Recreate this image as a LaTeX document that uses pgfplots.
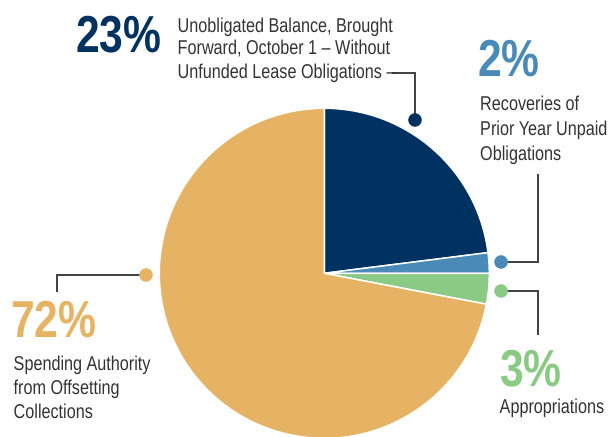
\documentclass[border=0pt]{standalone}
\usepackage{pgfplots}
\usepackage{pgfplotstable}
\pgfplotsset{compat=1.18}
\usepackage{fontspec}
\setmainfont{Liberation Sans}
\newfontfamily\labfont[FakeStretch=0.81]{Liberation Sans}
\newfontfamily\pctfont[FakeStretch=0.82]{Liberation Sans}
\definecolor{navy}{RGB}{0,50,97}
\definecolor{pblue}{RGB}{74,138,185}
\definecolor{pgreen}{RGB}{138,202,133}
\definecolor{ptan}{RGB}{229,179,99}
\definecolor{txt}{RGB}{51,51,51}
\definecolor{lead}{RGB}{68,68,68}

% shares in percent, clockwise from 12 o'clock
\pgfplotstableread{
name pct
unob 23
recov 2
approp 3
spend 72
}\slices
\pgfplotstablegetelem{0}{pct}\of\slices\edef\pA{\pgfplotsretval}%
\pgfplotstablegetelem{1}{pct}\of\slices\edef\pB{\pgfplotsretval}%
\pgfplotstablegetelem{2}{pct}\of\slices\edef\pC{\pgfplotsretval}%
\pgfplotstablegetelem{3}{pct}\of\slices\edef\pD{\pgfplotsretval}%
\pgfmathsetmacro\aA{90-3.6*\pA}%
\pgfmathsetmacro\aB{\aA-3.6*\pB}%
\pgfmathsetmacro\aC{\aB-3.6*\pC}%
\pgfmathsetmacro\aD{\aC-3.6*\pD}%

\newcommand\slice[3]{\filldraw[fill=#1, draw=white, line width=1.5pt, line join=round]
  (axis cs:324.3,162.7) -- ++(#2:165pt) arc[start angle=#2, end angle=#3, radius=165pt] -- cycle;}
\newcommand\lab[3]{\node[anchor=base west, inner sep=0pt, text=txt,
  font=\labfont\fontsize{20}{24}\selectfont] at (axis cs:#1,#2) {#3};}
\newcommand\pct[4]{\node[anchor=base west, inner sep=0pt, text=#3,
  font=\pctfont\bfseries\fontsize{52}{52}\selectfont] at (axis cs:#1,#2) {#4\%};}

\begin{document}
\begin{tikzpicture}
\begin{axis}[hide axis, x=1pt, y=1pt, xmin=0, xmax=612, ymin=0, ymax=436,
  enlargelimits=false, clip=true]
\slice{navy}{90}{\aA}
\slice{pblue}{\aA}{\aB}
\slice{pgreen}{\aB}{\aC}
\slice{ptan}{\aC}{\aD}

% leader lines
\addplot[lead, line width=1.4pt, no marks] coordinates {(392,363) (415,363) (415,316)};
\addplot[lead, line width=1.4pt, no marks] coordinates {(538,262) (538,174) (501,174)};
\addplot[lead, line width=1.4pt, no marks] coordinates {(501,145) (538,145) (538,101)};
\addplot[lead, line width=1.4pt, no marks] coordinates {(146,161) (57,161) (57,144)};
\addplot[only marks, mark=*, mark size=6.5pt, navy] coordinates {(415,316)};
\addplot[only marks, mark=*, mark size=6.5pt, pblue] coordinates {(501,174)};
\addplot[only marks, mark=*, mark size=6.5pt, pgreen] coordinates {(501,145)};
\addplot[only marks, mark=*, mark size=6.5pt, ptan] coordinates {(146,161)};

\pct{76}{383.7}{navy}{\pA}
\lab{177.5}{403.7}{Unobligated Balance, Brought}
\lab{177.5}{381}{Forward, October 1 – Without}
\lab{177.5}{357.5}{Unfunded Lease Obligations –}

\pct{478}{359}{pblue}{\pB}
\lab{480}{325}{Recoveries of}
\lab{480}{300.5}{Prior Year Unpaid}
\lab{480}{275.5}{Obligations}

\pct{11}{98}{ptan}{\pD}
\lab{13.5}{66}{Spending Authority}
\lab{13.5}{41.7}{from Offsetting}
\lab{13.5}{17.5}{Collections}

\pct{500}{50}{pgreen}{\pC}
\lab{499.5}{23}{Appropriations}
\coordinate (BL) at (axis cs:0,0);
\coordinate (TR) at (axis cs:612,436);
\end{axis}
\pgfresetboundingbox
\useasboundingbox (BL) rectangle (TR);
\end{tikzpicture}
\end{document}
